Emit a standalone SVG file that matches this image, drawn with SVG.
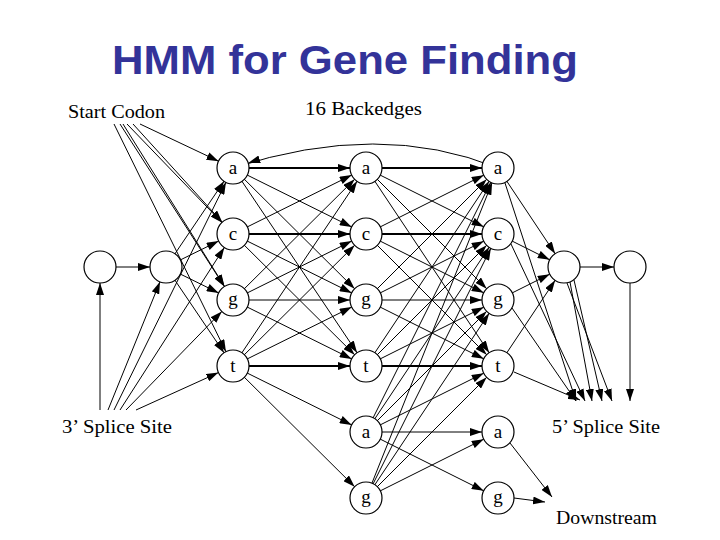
<svg xmlns="http://www.w3.org/2000/svg" width="720" height="540" viewBox="0 0 720 540">
<style>
.n circle{fill:#fff;stroke:#000;stroke-width:1.2}
.n text,.lbl{font-family:"Liberation Serif",serif;font-size:19px;fill:#000}
.n text{text-anchor:middle}
#edges line,#edges path{stroke:#000;stroke-width:1;fill:none}
.c{marker-end:url(#ac)}
.p{marker-end:url(#ap)}
.h{stroke-width:2!important}
</style>
<defs>
<marker id="ac" markerUnits="userSpaceOnUse" viewBox="0 0 12 8" markerWidth="12" markerHeight="8" refX="28" refY="4" orient="auto"><path d="M0,0L12,4L0,8z"/></marker>
<marker id="ap" markerUnits="userSpaceOnUse" viewBox="0 0 12 8" markerWidth="12" markerHeight="8" refX="12" refY="4" orient="auto"><path d="M0,0L12,4L0,8z"/></marker>
</defs>
<text x="112" y="74" textLength="466" lengthAdjust="spacingAndGlyphs" style="font-family:'Liberation Sans',sans-serif;font-weight:bold;font-size:41px;fill:#333399">HMM for Gene Finding</text>
<text class="lbl" x="68" y="118" textLength="97" lengthAdjust="spacingAndGlyphs">Start Codon</text>
<text class="lbl" x="305" y="115" textLength="117" lengthAdjust="spacingAndGlyphs">16 Backedges</text>
<text class="lbl" x="62" y="433" textLength="110" lengthAdjust="spacingAndGlyphs">3’ Splice Site</text>
<text class="lbl" x="552" y="433" textLength="108" lengthAdjust="spacingAndGlyphs">5’ Splice Site</text>
<text class="lbl" x="556" y="524" textLength="101" lengthAdjust="spacingAndGlyphs">Downstream</text>
<g id="edges">
<path class="c" d="M498,168 Q380,120 233,168"/>
<line class="c" x1="140" y1="124" x2="233" y2="168"/>
<line class="c" x1="127" y1="124" x2="233" y2="234"/>
<line class="c" x1="120" y1="124" x2="233" y2="300"/>
<line class="c" x1="114" y1="124" x2="233" y2="366"/>
<line class="c" x1="133" y1="124" x2="233" y2="234"/>
<line class="c" x1="123" y1="124" x2="233" y2="300"/>
<line class="c" x1="100" y1="410" x2="100" y2="267"/>
<line class="c" x1="108" y1="410" x2="166" y2="267"/>
<line class="c" x1="114" y1="410" x2="233" y2="168"/>
<line class="c" x1="120" y1="410" x2="233" y2="234"/>
<line class="c" x1="126" y1="410" x2="233" y2="300"/>
<line class="c" x1="136" y1="410" x2="233" y2="366"/>
<line class="c" x1="100" y1="267" x2="166" y2="267"/>
<line class="c" x1="166" y1="267" x2="233" y2="168"/>
<line class="c" x1="166" y1="267" x2="233" y2="234"/>
<line class="c" x1="166" y1="267" x2="233" y2="300"/>
<line class="c" x1="166" y1="267" x2="233" y2="366"/>
<line class="c h" x1="233" y1="168" x2="366" y2="168"/>
<line class="c" x1="233" y1="168" x2="366" y2="234"/>
<line class="c" x1="233" y1="168" x2="366" y2="300"/>
<line class="c" x1="233" y1="168" x2="366" y2="366"/>
<line class="c" x1="233" y1="234" x2="366" y2="168"/>
<line class="c h" x1="233" y1="234" x2="366" y2="234"/>
<line class="c" x1="233" y1="234" x2="366" y2="300"/>
<line class="c" x1="233" y1="234" x2="366" y2="366"/>
<line class="c" x1="233" y1="300" x2="366" y2="168"/>
<line class="c" x1="233" y1="300" x2="366" y2="234"/>
<line class="c" x1="233" y1="300" x2="366" y2="300"/>
<line class="c" x1="233" y1="300" x2="366" y2="366"/>
<line class="c" x1="233" y1="366" x2="366" y2="168"/>
<line class="c" x1="233" y1="366" x2="366" y2="234"/>
<line class="c" x1="233" y1="366" x2="366" y2="300"/>
<line class="c h" x1="233" y1="366" x2="366" y2="366"/>
<line class="c" x1="233" y1="366" x2="366" y2="432"/>
<line class="c" x1="233" y1="366" x2="366" y2="498"/>
<line class="c h" x1="366" y1="168" x2="498" y2="168"/>
<line class="c" x1="366" y1="168" x2="498" y2="234"/>
<line class="c" x1="366" y1="168" x2="498" y2="300"/>
<line class="c" x1="366" y1="168" x2="498" y2="366"/>
<line class="c" x1="366" y1="234" x2="498" y2="168"/>
<line class="c h" x1="366" y1="234" x2="498" y2="234"/>
<line class="c" x1="366" y1="234" x2="498" y2="300"/>
<line class="c" x1="366" y1="234" x2="498" y2="366"/>
<line class="c" x1="366" y1="300" x2="498" y2="168"/>
<line class="c" x1="366" y1="300" x2="498" y2="234"/>
<line class="c" x1="366" y1="300" x2="498" y2="300"/>
<line class="c" x1="366" y1="300" x2="498" y2="366"/>
<line class="c" x1="366" y1="366" x2="498" y2="168"/>
<line class="c" x1="366" y1="366" x2="498" y2="234"/>
<line class="c" x1="366" y1="366" x2="498" y2="300"/>
<line class="c h" x1="366" y1="366" x2="498" y2="366"/>
<line class="c" x1="366" y1="432" x2="498" y2="168"/>
<line class="c" x1="366" y1="432" x2="498" y2="234"/>
<line class="c" x1="366" y1="432" x2="498" y2="300"/>
<line class="c" x1="366" y1="432" x2="498" y2="366"/>
<line class="c" x1="366" y1="432" x2="498" y2="432"/>
<line class="c" x1="366" y1="432" x2="498" y2="498"/>
<line class="c" x1="366" y1="498" x2="498" y2="168"/>
<line class="c" x1="366" y1="498" x2="498" y2="234"/>
<line class="c" x1="366" y1="498" x2="498" y2="300"/>
<line class="c" x1="366" y1="498" x2="498" y2="366"/>
<line class="c" x1="366" y1="498" x2="498" y2="432"/>
<line class="c" x1="498" y1="168" x2="564" y2="267"/>
<line class="c" x1="498" y1="234" x2="564" y2="267"/>
<line class="c" x1="498" y1="300" x2="564" y2="267"/>
<line class="c" x1="498" y1="366" x2="564" y2="267"/>
<line class="p" x1="505" y1="183" x2="576" y2="401"/>
<line class="p" x1="511" y1="244" x2="585" y2="401"/>
<line class="p" x1="512" y1="308" x2="576" y2="401"/>
<line class="p" x1="514" y1="372" x2="580" y2="400"/>
<line class="p" x1="570" y1="282" x2="592" y2="401"/>
<line class="p" x1="574" y1="280" x2="602" y2="401"/>
<line class="p" x1="567" y1="283" x2="612" y2="401"/>
<line class="c" x1="564" y1="267" x2="630" y2="267"/>
<line class="p" x1="630" y1="283" x2="630" y2="401"/>
<line class="p" x1="510" y1="443" x2="552" y2="497"/>
<line class="p" x1="514" y1="498" x2="545" y2="502"/>
</g>
<g class="n" id="s1"><circle cx="100" cy="267" r="16"/></g>
<g class="n" id="s2"><circle cx="166" cy="267" r="16"/></g>
<g class="n" id="e1"><circle cx="564" cy="267" r="16"/></g>
<g class="n" id="e2"><circle cx="630" cy="267" r="16"/></g>
<g class="n" id="a1"><circle cx="233" cy="168" r="16"/><text x="233" y="174">a</text></g>
<g class="n" id="c1"><circle cx="233" cy="234" r="16"/><text x="233" y="240">c</text></g>
<g class="n" id="g1"><circle cx="233" cy="300" r="16"/><text x="233" y="305">g</text></g>
<g class="n" id="t1"><circle cx="233" cy="366" r="16"/><text x="233" y="372">t</text></g>
<g class="n" id="a2"><circle cx="366" cy="168" r="16"/><text x="366" y="174">a</text></g>
<g class="n" id="c2"><circle cx="366" cy="234" r="16"/><text x="366" y="240">c</text></g>
<g class="n" id="g2"><circle cx="366" cy="300" r="16"/><text x="366" y="305">g</text></g>
<g class="n" id="t2"><circle cx="366" cy="366" r="16"/><text x="366" y="372">t</text></g>
<g class="n" id="a2s"><circle cx="366" cy="432" r="16"/><text x="366" y="438">a</text></g>
<g class="n" id="g2s"><circle cx="366" cy="498" r="16"/><text x="366" y="503">g</text></g>
<g class="n" id="a3"><circle cx="498" cy="168" r="16"/><text x="498" y="174">a</text></g>
<g class="n" id="c3"><circle cx="498" cy="234" r="16"/><text x="498" y="240">c</text></g>
<g class="n" id="g3"><circle cx="498" cy="300" r="16"/><text x="498" y="305">g</text></g>
<g class="n" id="t3"><circle cx="498" cy="366" r="16"/><text x="498" y="372">t</text></g>
<g class="n" id="a3s"><circle cx="498" cy="432" r="16"/><text x="498" y="438">a</text></g>
<g class="n" id="g3s"><circle cx="498" cy="498" r="16"/><text x="498" y="503">g</text></g>
</svg>
